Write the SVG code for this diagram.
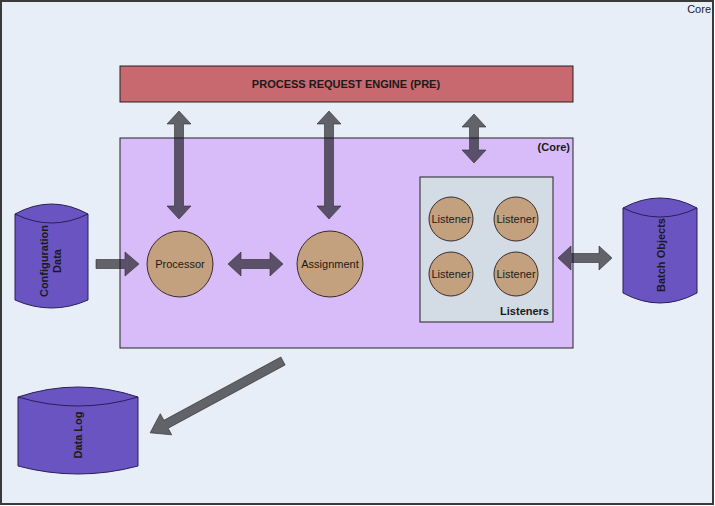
<svg xmlns="http://www.w3.org/2000/svg" width="715" height="506" viewBox="0 0 715 506">
<defs>
<style>
.lbl{font-family:"Liberation Sans",Arial,sans-serif;font-size:11px;fill:#1a1a1a}
.b{font-weight:bold}
.circ{fill:#c3a17f;stroke:#3a2a2a;stroke-width:1}
.cyl{fill:#6a54c1;stroke:#2a1f55;stroke-width:1}
.arr{fill:#121214;fill-opacity:0.63;stroke:#2e2e2e;stroke-width:0.6}
</style>
</defs>
<rect x="1" y="1" width="712" height="503" fill="#e8eef8" stroke="#3a3a3a" stroke-width="2"/>
<text class="lbl" x="711" y="13" text-anchor="end" font-size="10.6">Core</text>

<g id="pre">
<rect x="120" y="66" width="453" height="36" fill="#c8696f" stroke="#222" stroke-width="1"/>
<text class="lbl b" x="346" y="88" text-anchor="middle" font-size="10.7">PROCESS REQUEST ENGINE (PRE)</text>
</g>

<g id="core">
<rect x="120" y="138" width="453" height="210" fill="#d8bcfa" stroke="#222" stroke-width="1"/>
<text class="lbl b" x="570" y="151" text-anchor="end">(Core)</text>
</g>

<g id="listeners">
<rect x="420" y="177" width="133" height="145" fill="#d3dbe5" stroke="#222" stroke-width="1"/>
<text class="lbl b" x="549" y="315" text-anchor="end">Listeners</text>
</g>

<g id="listener1"><circle class="circ" cx="451" cy="219" r="22"/><text class="lbl" x="451" y="223" text-anchor="middle" font-size="11.5">Listener</text></g>
<g id="listener2"><circle class="circ" cx="516" cy="219" r="22"/><text class="lbl" x="516" y="223" text-anchor="middle" font-size="11.5">Listener</text></g>
<g id="listener3"><circle class="circ" cx="451" cy="274" r="22"/><text class="lbl" x="451" y="278" text-anchor="middle" font-size="11.5">Listener</text></g>
<g id="listener4"><circle class="circ" cx="516" cy="274" r="22"/><text class="lbl" x="516" y="278" text-anchor="middle" font-size="11.5">Listener</text></g>

<g id="processor"><circle class="circ" cx="180" cy="264" r="33"/><text class="lbl" x="180" y="268" text-anchor="middle" font-size="10.5">Processor</text></g>
<g id="assignment"><circle class="circ" cx="330" cy="264" r="33"/><text class="lbl" x="330" y="268" text-anchor="middle" font-size="10.5">Assignment</text></g>

<g id="config">
<path class="cyl" d="M15,214 Q51.5,194 88,214 L88,300 Q51.5,316 15,300 Z"/>
<path d="M15,214 Q51.5,232 88,214" fill="none" stroke="#2a1f55" stroke-width="1"/>
<text class="lbl b" transform="translate(48,261) rotate(-90)" text-anchor="middle">Configuration</text>
<text class="lbl b" transform="translate(61,261) rotate(-90)" text-anchor="middle">Data</text>
</g>

<g id="batch">
<path class="cyl" d="M623,208 Q660,188 697,208 L697,293 Q660,313 623,293 Z"/>
<path d="M623,208 Q660,226 697,208" fill="none" stroke="#2a1f55" stroke-width="1"/>
<text class="lbl b" transform="translate(665,255) rotate(-90)" text-anchor="middle">Batch Objects</text>
</g>

<g id="datalog">
<path class="cyl" d="M18,397 Q78,377 138,397 L138,466 Q78,482 18,466 Z"/>
<path d="M18,397 Q78,415 138,397" fill="none" stroke="#2a1f55" stroke-width="1"/>
<text class="lbl b" transform="translate(82,435) rotate(-90)" text-anchor="middle">Data Log</text>
</g>

<g id="connectors">
<polygon class="arr" points="179,111 191,124 183.5,124 183.5,206 191,206 179,219 167,206 174.5,206 174.5,124 167,124"/>
<polygon class="arr" points="329,111 341,124 333.5,124 333.5,206 341,206 329,219 317,206 324.5,206 324.5,124 317,124"/>
<polygon class="arr" points="474,114 486,127 478.5,127 478.5,150 486,150 474,163 462,150 469.5,150 469.5,127 462,127"/>
<polygon class="arr" points="228,264 241,252 241,259.5 270,259.5 270,252 283,264 270,276 270,268.5 241,268.5 241,276"/>
<polygon class="arr" points="558,258 571,246 571,253.5 599,253.5 599,246 612,258 599,270 599,262.5 571,262.5 571,270"/>
<polygon class="arr" points="96,259.5 125,259.5 125,252 139,264 125,276 125,268.5 96,268.5"/>
<polygon class="arr" transform="translate(283,361) rotate(151.6)" points="0,-4.5 133,-4.5 133,-12 151,0 133,12 133,4.5 0,4.5"/>
</g>
</svg>
